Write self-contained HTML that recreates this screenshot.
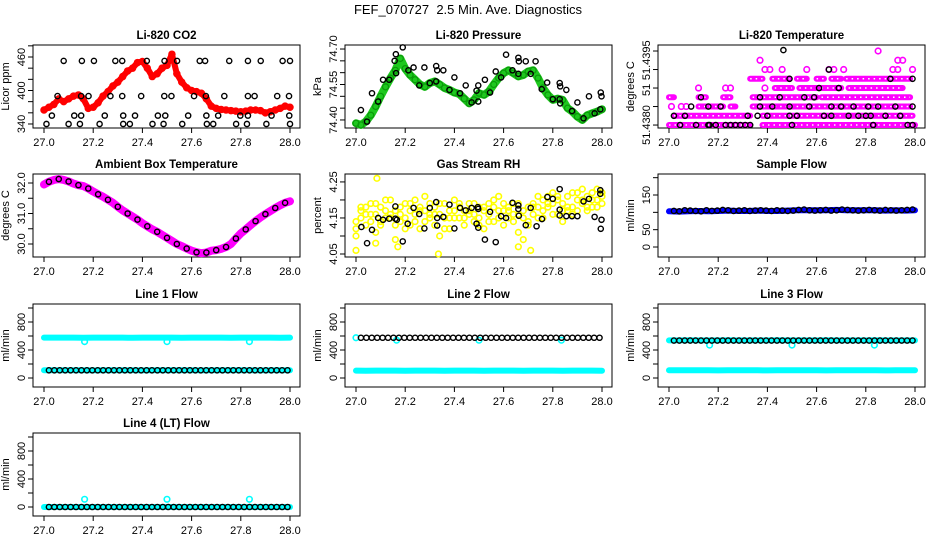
<!DOCTYPE html>
<html><head><meta charset="utf-8">
<style>
html,body{margin:0;padding:0;background:#fff;}
svg{display:block;font-family:"Liberation Sans",Arial,sans-serif;}
</style></head>
<body>
<svg id="chart" width="936" height="540" viewBox="0 0 936 540">
<rect width="936" height="540" fill="#fff"/>
<text x="468" y="14" text-anchor="middle" font-size="13">FEF_070727&#160; 2.5 Min. Ave. Diagnostics</text>
</svg>
<script>
// ---------- DATA ----------
const xTicks = [27.0, 27.2, 27.4, 27.6, 27.8, 28.0];
const xTickLabels = ["27.0", "27.2", "27.4", "27.6", "27.8", "28.0"];

// CO2 (ppm), step 0.02 from 27.00
const co2Red = [365,370,375,385,380,385,390,392,385,368,370,378,390,398,408,415,425,435,440,450,452,440,425,430,440,445,465,430,415,405,400,398,395,385,372,368,366,365,364,363,362,363,365,365,364,360,362,365,368,372,370];
const co2BlackT = [27.08,27.154,27.203,27.29,27.318,27.418,27.49,27.541,27.633,27.655,27.753,27.829,27.881,27.97,28.0,
 27.055,27.151,27.181,27.27,27.318,27.395,27.489,27.518,27.61,27.658,27.733,27.829,27.856,27.948,27.996,
 27.032,27.123,27.151,27.247,27.322,27.37,27.463,27.493,27.586,27.66,27.708,27.798,27.829,27.925,27.997,
 27.01,27.1,27.146,27.226,27.322,27.349,27.441,27.486,27.562,27.662,27.688,27.781,27.825,27.904,28.0];
const co2BlackV = [453,453,453,453,453,453,453,453,453,453,453,453,453,453,453,
 390,390,390,390,390,390,390,390,390,390,390,390,390,390,390,
 355,355,355,355,355,355,355,355,355,355,355,355,355,355,355,
 340,340,340,340,340,340,340,340,340,340,340,340,340,340,340];

// Pressure (kPa), step 0.02
const presGreen = [74.386,74.379,74.393,74.42,74.457,74.50,74.54,74.577,74.61,74.66,74.617,74.59,74.57,74.55,74.54,74.556,74.563,74.55,74.535,74.527,74.516,74.51,74.49,74.47,74.485,74.513,74.506,74.52,74.55,74.577,74.598,74.61,74.598,74.584,74.59,74.605,74.61,74.577,74.535,74.506,74.485,74.49,74.485,74.45,74.435,74.414,74.40,74.42,74.428,74.435,74.445];
const presBlackT = [27.02,27.045,27.065,27.09,27.11,27.135,27.157,27.162,27.163,27.19,27.213,27.234,27.257,27.278,27.30,27.326,27.33,27.326,27.355,27.38,27.40,27.423,27.446,27.47,27.49,27.497,27.497,27.524,27.545,27.568,27.59,27.61,27.636,27.66,27.662,27.66,27.69,27.71,27.73,27.755,27.777,27.80,27.828,27.828,27.83,27.83,27.855,27.878,27.90,27.925,27.947,27.97,27.993,27.995,27.998];
const presBlackV = [74.442,74.393,74.513,74.478,74.57,74.57,74.65,74.678,74.598,74.707,74.61,74.622,74.546,74.622,74.556,74.628,74.61,74.563,74.61,74.527,74.58,74.513,74.546,74.474,74.524,74.546,74.478,74.57,74.516,74.605,74.58,74.676,74.61,74.663,74.648,74.595,74.648,74.595,74.648,74.53,74.558,74.488,74.488,74.556,74.542,74.47,74.527,74.438,74.474,74.407,74.50,74.428,74.445,74.516,74.50];

// Li-820 temperature, in count levels above 51.4380
const tempRunLevel = [0,0,1,1,2,2,2,3,3,3,3,3,4,4,4,4,5,5,5,5,5,5];
const tempRunStart = [27.0,27.38,27.02,27.38,27.12,27.25,27.34,27.0,27.12,27.22,27.34,27.62,27.43,27.53,27.62,27.73,27.33,27.42,27.52,27.60,27.66,27.72];
const tempRunEnd   = [27.33,28.0,27.33,27.99,27.22,27.27,27.98,27.02,27.15,27.25,27.60,27.98,27.50,27.60,27.70,27.95,27.38,27.49,27.56,27.63,27.70,27.98];
const tempMagT = [27.01,27.05,27.07,27.12,27.23,27.25,27.39,27.39,27.41,27.46,27.56,27.65,27.67,27.71,27.91,27.93,27.99,27.37,27.93,27.95,27.85];
const tempMagV = [2,2,2,4,4,4,4,6,6,6,6,6,6,6,6,6,6,7,7,7,8];
const tempBlackT = [27.045,27.11,27.16,27.165,27.19,27.23,27.25,27.27,27.29,27.31,27.33,27.5,27.83,27.97,27.99,
 27.02,27.065,27.32,27.36,27.40,27.49,27.52,27.63,27.66,27.73,27.77,27.80,27.82,27.88,27.94,
 27.09,27.16,27.21,27.37,27.42,27.49,27.57,27.66,27.70,27.75,27.81,27.85,27.92,27.99,
 27.13,27.37,27.45,27.55,27.59,27.61,27.69,27.49,27.9,27.99,27.65,27.465];
const tempBlackV = [0,0,0,0,0,0,0,0,0,0,0,0,0,0,0,
 1,1,1,1,1,1,1,1,1,1,1,1,1,1,1,
 2,2,2,2,2,2,2,2,2,2,2,2,2,2,
 3,3,3,3,3,4,4,5,5,5,6,8.1];
const tempTickLevels = [0,2,4,6,8];
const tempLabelLevels = [0,3.8,7.0];
const tempLabels = ["51.4380","51","51.4395"];

// Ambient box temperature, step 0.02
const ambMag = [31.95,32.04,32.1,32.13,32.1,32.05,31.98,31.93,31.9,31.82,31.72,31.63,31.55,31.45,31.35,31.22,31.1,31.0,30.9,30.8,30.68,30.58,30.48,30.4,30.3,30.2,30.1,30.0,29.93,29.85,29.78,29.73,29.7,29.72,29.78,29.8,29.84,29.9,30.0,30.18,30.35,30.48,30.62,30.75,30.87,30.98,31.08,31.18,31.27,31.35,31.4];
const ambBlack = [32.04,32.13,32.05,31.93,31.82,31.63,31.45,31.22,31.0,30.8,30.58,30.4,30.2,30.0,29.85,29.73,29.72,29.8,29.9,30.18,30.48,30.75,30.98,31.18,31.35];

// Gas stream RH (percent), step 0.02, three scatter layers
const rhA = [4.14,4.17,4.18,4.19,4.16,4.18,4.17,4.20,4.13,4.18,4.19,4.17,4.20,4.18,4.17,4.19,4.18,4.16,4.19,4.15,4.20,4.18,4.17,4.19,4.16,4.18,4.17,4.19,4.18,4.21,4.17,4.18,4.19,4.16,4.15,4.18,4.19,4.18,4.20,4.21,4.22,4.20,4.19,4.21,4.22,4.20,4.23,4.21,4.22,4.23,4.22];
const rhB = [4.12,4.15,4.13,4.16,4.11,4.14,4.15,4.16,4.09,4.14,4.15,4.13,4.16,4.12,4.14,4.15,4.13,4.10,4.15,4.12,4.17,4.15,4.13,4.16,4.14,4.15,4.12,4.16,4.14,4.17,4.13,4.15,4.14,4.11,4.09,4.14,4.16,4.15,4.17,4.18,4.19,4.16,4.14,4.17,4.18,4.17,4.19,4.18,4.18,4.20,4.19];
const rhC = [4.10,4.18,4.16,4.14,4.19,4.13,4.20,4.15,4.17,4.16,4.12,4.19,4.14,4.17,4.21,4.16,4.16,4.19,4.12,4.17,4.15,4.19,4.15,4.17,4.19,4.13,4.18,4.14,4.20,4.15,4.19,4.17,4.16,4.19,4.17,4.13,4.18,4.21,4.15,4.19,4.16,4.21,4.17,4.18,4.16,4.22,4.20,4.17,4.20,4.18,4.21];
const rhOutT = [27.085,27.0,27.335,27.71,27.17,27.08,27.66];
const rhOutV = [4.26,4.06,4.05,4.06,4.07,4.08,4.07];
const rhBlackT = [27.022,27.045,27.065,27.09,27.11,27.135,27.16,27.16,27.166,27.19,27.21,27.234,27.257,27.278,27.30,27.326,27.33,27.33,27.355,27.38,27.40,27.423,27.446,27.47,27.49,27.495,27.497,27.497,27.524,27.545,27.568,27.59,27.61,27.636,27.66,27.66,27.662,27.69,27.71,27.734,27.756,27.778,27.80,27.828,27.828,27.828,27.855,27.878,27.90,27.925,27.947,27.97,27.993,27.993,27.998,27.995];
const rhBlackV = [4.125,4.08,4.117,4.15,4.145,4.148,4.182,4.148,4.145,4.085,4.134,4.178,4.161,4.121,4.178,4.194,4.15,4.129,4.153,4.187,4.121,4.178,4.171,4.178,4.134,4.18,4.175,4.123,4.09,4.167,4.083,4.155,4.15,4.192,4.185,4.175,4.156,4.13,4.178,4.127,4.147,4.208,4.203,4.23,4.173,4.157,4.155,4.155,4.155,4.196,4.203,4.153,4.227,4.217,4.145,4.12];

// Sample flow (ml/min)
const sampleBlue = [103,102,103,104,103,104,105,104,104,105,104,104,105,106,106,106,106,107,106,106,106,106,105,106,105,106];
const sampleBlack = [104,103,106,105,104,103,106,104,105,107,106,104,105,106,104,105,106,105,104,106,105,104,105,107,108,106,105,106,107,105,106,108,107,106,105,106,107,106,105,107,106,105,106,107,108];

// Line flows (ml/min)
const line1CyanUp = [576,576,577,576,575,576,577,576,576,575,576,577,576,576,575,576,577,576,576,575,576,577,576,576,575,576];
const line1CyanLow = [110,110,111,110,110,109,110,111,110,110,109,110,110,111,110,110,109,110,110,111,110,110,109,110,110,111];
const line1Black = [110,110,110,110,110,110,110,110,110,110,110,110,110,110,110,110,110,110,110,110,110,110,110,110,110,110,110,110,110,110,110,110,110,110,110,110,110,110,110,110,110,110,110,110,110];
const line2CyanLow = [105,104,105,106,105,104,105,106,105,104,105,106,105,104,105,106,105,104,105,106,105,104,105,106,105,104];
const line2Black = [575,575,575,575,575,575,575,575,575,575,575,575,575,575,575,575,575,575,575,575,575,575,575,575,575,575,575,575,575,575,575,575,575,575,575,575,575,575,575,575,575,575,575,575,575];
const line3CyanUp = [538,538,539,538,537,538,539,538,538,537,538,539,538,538,537,538,539,538,538,537,538,539,538,538,537,538];
const line3CyanLow = [110,110,111,110,110,109,110,111,110,110,109,110,110,111,110,110,109,110,110,111,110,110,109,110,110,111];
const line3Black = [535,535,535,535,535,535,535,535,535,535,535,535,535,535,535,535,535,535,535,535,535,535,535,535,535,535,535,535,535,535,535,535,535,535,535,535,535,535,535,535,535,535,535,535,535];
const line4Cyan = [0,0,0,0,0,0,0,0,0,0,0,0,0,0,0,0,0,0,0,0,0,0,0,0,0,0];
const line4Black = [0,0,0,0,0,0,0,0,0,0,0,0,0,0,0,0,0,0,0,0,0,0,0,0,0,0,0,0,0,0,0,0,0,0,0,0,0,0,0,0,0,0,0,0,0];
const dipTimes = [27.165, 27.5, 27.835];
const line1Dips = [520, 520, 520];
const line2Dips = [540, 540, 540];
const line3Dips = [470, 470, 470];
const line4Outliers = [110, 110, 110];
const flowTicks = [0,200,400,600,800,1000];

// ---------- DRAWING ----------
const NS = "http://www.w3.org/2000/svg";
const svg = document.getElementById("chart");
function grid(n, t0, t1){ const a=[]; for(let i=0;i<n;i++) a.push(t0+(t1-t0)*i/(n-1)); return a; }
const T51 = grid(51, 27.0, 28.0);
const T26 = grid(26, 27.0, 28.0);
const T45 = grid(45, 27.02, 27.99);
const T25 = grid(25, 27.02, 27.98);

function el(tag, parent, name){
  const e = document.createElementNS(NS, tag);
  
  
  parent.appendChild(e);
  return e;
}
const colX = [44, 356, 669], rowTop = [45, 174, 304, 433];

function panel(id, col, row, title, ylab, dom, ticks, labels, labelPos){
  const x0 = colX[col], top = rowTop[row], H = 83;
  const left = x0 - 11, right = x0 + 256, bottom = top + H;
  const g = el('g', svg, id + '-panel');
  const sx = t => x0 + (t - 27) * 246;
  const sy = v => bottom - (v - dom[0]) / (dom[1] - dom[0]) * H;
  const box = el('rect', g, id + '-plot-box');
  box.setAttribute('x', left); box.setAttribute('y', top);
  box.setAttribute('width', right-left); box.setAttribute('height', H);
  box.setAttribute('fill', 'none'); box.setAttribute('stroke', '#000'); box.setAttribute('stroke-width', '1');
  const tt = el('text', g, id + '-title');
  tt.setAttribute('x', (left+right)/2); tt.setAttribute('y', top-6);
  tt.setAttribute('text-anchor','middle'); tt.setAttribute('font-size','11.5'); tt.setAttribute('font-weight','bold');
  tt.textContent = title;
  xTicks.forEach((t,i)=>{
    const l = el('line', g, id + '-x-tick');
    l.setAttribute('x1', sx(t)); l.setAttribute('x2', sx(t));
    l.setAttribute('y1', bottom); l.setAttribute('y2', bottom+5); l.setAttribute('stroke','#000');
    const tx = el('text', g, id + '-x-tick-label');
    tx.setAttribute('x', sx(t)); tx.setAttribute('y', bottom+18);
    tx.setAttribute('text-anchor','middle'); tx.setAttribute('font-size','11');
    tx.textContent = xTickLabels[i];
  });
  ticks.forEach(v=>{
    const l = el('line', g, id + '-y-tick');
    l.setAttribute('x1', left-5); l.setAttribute('x2', left);
    l.setAttribute('y1', sy(v)); l.setAttribute('y2', sy(v)); l.setAttribute('stroke','#000');
  });
  labels.forEach((s,i)=>{
    if(!s) return;
    const y = sy(labelPos[i]);
    const tx = el('text', g, id + '-y-tick-label');
    tx.setAttribute('x', left-8); tx.setAttribute('y', y);
    tx.setAttribute('text-anchor','middle'); tx.setAttribute('font-size','11');
    tx.setAttribute('transform', `rotate(-90 ${left-8} ${y})`);
    tx.textContent = s;
  });
  const yt = el('text', g, id + '-y-axis-title');
  const ym = (top+bottom)/2;
  yt.setAttribute('x', left-24); yt.setAttribute('y', ym);
  yt.setAttribute('text-anchor','middle'); yt.setAttribute('font-size','11');
  yt.setAttribute('transform', `rotate(-90 ${left-24} ${ym})`);
  yt.textContent = ylab;
  return {g, sx, sy, id};
}
function band(p, times, vals, color, w, name){
  const pl = el('polyline', p.g, p.id + '-' + name);
  pl.setAttribute('points', times.map((t,i)=>p.sx(t)+','+p.sy(vals[i])).join(' '));
  pl.setAttribute('fill','none'); pl.setAttribute('stroke', color);
  pl.setAttribute('stroke-width', w); pl.setAttribute('stroke-linejoin','round'); pl.setAttribute('stroke-linecap','round');
}
function pts(p, times, vals, color, name, r, sw){
  times.forEach((t,i)=>{
    const c = el('circle', p.g, p.id + '-' + name);
    c.setAttribute('cx', p.sx(t)); c.setAttribute('cy', p.sy(vals[i]));
    c.setAttribute('r', r||2.6); c.setAttribute('fill','none');
    c.setAttribute('stroke', color); c.setAttribute('stroke-width', sw||1.4);
  });
}

// Li-820 CO2
const co2Ticks=[340,360,380,400,420,440,460,480];
let p = panel('co2',0,0,'Li-820 CO2','Licor ppm',[332.8,481.5],co2Ticks,['340','400','460'],[340,400,460]);
band(p,T51,co2Red,'#ff0000',6,'red-band');
pts(p,T51,co2Red,'#ff0000','red-point',3,1.5);
pts(p,co2BlackT,co2BlackV,'#000','black-point');

// Pressure
const presTicks=[74.40,74.45,74.50,74.55,74.60,74.65,74.70];
p = panel('pressure',1,0,'Li-820 Pressure','kPa',[74.366,74.717],presTicks,['74.40','74.55','74.70'],[74.40,74.55,74.70]);
band(p,T51,presGreen,'#1ec81e',8,'green-band');
pts(p,T51,presGreen,'#0a9a0a','green-point',3,1.2);
pts(p,presBlackT,presBlackV,'#000','black-point');

// Li-820 Temperature
p = panel('li820-temp',2,0,'Li-820 Temperature','degrees C',[-0.32,8.65],tempTickLevels,tempLabels,tempLabelLevels);
tempRunLevel.forEach((k,i)=>{
  const l = el('line', p.g, 'li820-temp-magenta-run');
  l.setAttribute('x1', p.sx(tempRunStart[i])); l.setAttribute('x2', p.sx(tempRunEnd[i]));
  l.setAttribute('y1', p.sy(k)); l.setAttribute('y2', p.sy(k));
  l.setAttribute('stroke','#ff00ff'); l.setAttribute('stroke-width','6'); l.setAttribute('stroke-linecap','round');
  const d = el('line', p.g, 'li820-temp-run-texture');
  d.setAttribute('x1', p.sx(tempRunStart[i])); d.setAttribute('x2', p.sx(tempRunEnd[i]));
  d.setAttribute('y1', p.sy(k)); d.setAttribute('y2', p.sy(k));
  d.setAttribute('stroke','#fff'); d.setAttribute('stroke-width','1.5'); d.setAttribute('stroke-dasharray','1.5 4');
});
pts(p,tempMagT,tempMagV,'#ff00ff','magenta-point',2.8,1.6);
pts(p,tempBlackT,tempBlackV,'#000','black-point');

// Ambient box temperature
p = panel('ambient',0,1,'Ambient Box Temperature','degrees C',[29.574,32.295],[30,30.5,31,31.5,32],['30.0','31.0','32.0'],[30,31,32]);
band(p,T51,ambMag,'#ff00ff',8,'magenta-band');
pts(p,T25,ambBlack,'#000','black-point',2.6,1.4);

// Gas stream RH
p = panel('rh',1,1,'Gas Stream RH','percent',[4.0417,4.272],[4.05,4.10,4.15,4.20,4.25],['4.05','4.15','4.25'],[4.05,4.15,4.25]);
pts(p,T51,rhA,'#ffff00','yellow-point',2.8,1.6);
pts(p,T51,rhB,'#ffff00','yellow-point',2.8,1.6);
pts(p,T51,rhC,'#ffff00','yellow-point',2.8,1.6);
pts(p,rhOutT,rhOutV,'#ffff00','yellow-outlier',2.8,1.6);
pts(p,rhBlackT,rhBlackV,'#000','black-point');

// Sample flow
p = panel('sample-flow',2,1,'Sample Flow','ml/min',[-28.8,210.6],[0,50,100,150,200],['0','50','150'],[0,50,150]);
band(p,T26,sampleBlue,'#0000ff',6,'blue-band');
pts(p,T45,sampleBlack,'#000','black-point');

// Line 1
p = panel('line1-flow',0,2,'Line 1 Flow','ml/min',[-128.6,1057],flowTicks,['0','400','800'],[0,400,800]);
band(p,T26,line1CyanUp,'#00ffff',6,'cyan-upper-band');
band(p,T26,line1CyanLow,'#00ffff',6,'cyan-lower-band');
pts(p,dipTimes,line1Dips,'#00ffff','cyan-dip',2.8,1.6);
pts(p,T45,line1Black,'#000','black-point');

// Line 2
p = panel('line2-flow',1,2,'Line 2 Flow','ml/min',[-128.6,1057],flowTicks,['0','400','800'],[0,400,800]);
band(p,T26,line2CyanLow,'#00ffff',6,'cyan-lower-band');
pts(p,[27.0],[575],'#00ffff','cyan-start',2.8,1.6);
pts(p,dipTimes,line2Dips,'#00ffff','cyan-dip',2.8,1.6);
pts(p,T45,line2Black,'#000','black-point');

// Line 3
p = panel('line3-flow',2,2,'Line 3 Flow','ml/min',[-128.6,1057],flowTicks,['0','400','800'],[0,400,800]);
band(p,T26,line3CyanUp,'#00ffff',6,'cyan-upper-band');
band(p,T26,line3CyanLow,'#00ffff',6,'cyan-lower-band');
pts(p,dipTimes,line3Dips,'#00ffff','cyan-dip',2.8,1.6);
pts(p,T45,line3Black,'#000','black-point');

// Line 4
p = panel('line4-flow',0,3,'Line 4 (LT) Flow','ml/min',[-128.6,1057],flowTicks,['0','400','800'],[0,400,800]);
band(p,T26,line4Cyan,'#00ffff',6,'cyan-band');
pts(p,dipTimes,line4Outliers,'#00ffff','cyan-outlier',2.8,1.6);
pts(p,T45,line4Black,'#000','black-point');
</script>
</body></html>
